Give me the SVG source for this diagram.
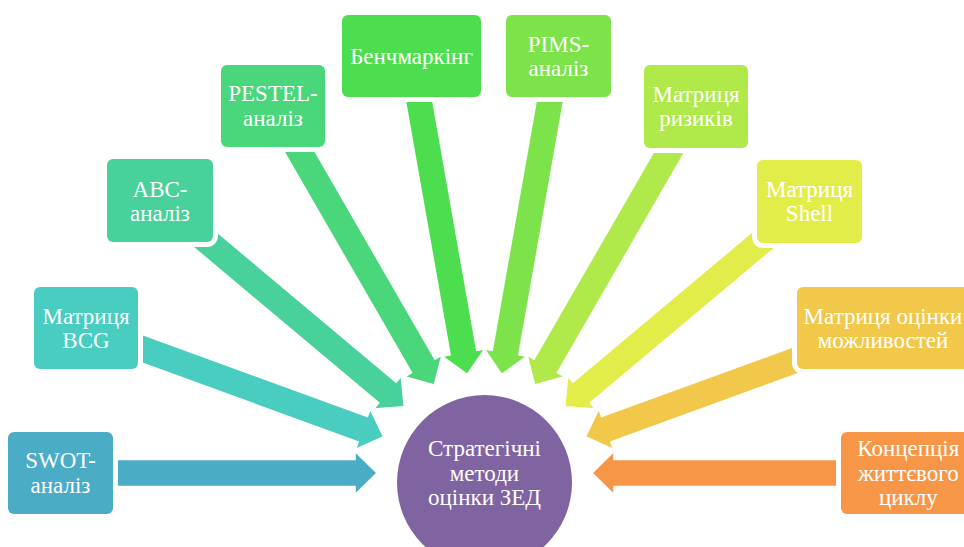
<svg xmlns="http://www.w3.org/2000/svg" xmlns:xlink="http://www.w3.org/1999/xlink" width="964" height="547" viewBox="0 0 964 547">
  <style>
    .box { stroke: #ffffff; stroke-width: 10; paint-order: stroke; }
    .arr { stroke: #ffffff; stroke-width: 1.5; stroke-linejoin: miter; }
    .t { font-family: "Liberation Serif", "Times New Roman", serif; font-size: 23px; fill: #ffffff; text-anchor: middle; }
  </style>
  <defs>
    <path id="arrow" d="M-300,-13.5 H-22 V-21.5 L0,0 L-22,21.5 V13.5 H-300 Z"/>
  </defs>
  <rect width="964" height="547" fill="#ffffff"/>

  <g id="connectors">
    <use href="#arrow" class="arr" fill="#4BACC6" transform="translate(377,473) rotate(0)"/>
    <use href="#arrow" class="arr" fill="#4ACDC1" transform="translate(383.5,436.7) rotate(20)"/>
    <use href="#arrow" class="arr" fill="#49D19C" transform="translate(404.3,406.7) rotate(40)"/>
    <use href="#arrow" class="arr" fill="#4AD67B" transform="translate(434.3,385) rotate(60)"/>
    <use href="#arrow" class="arr" fill="#4CDE4E" transform="translate(467.3,374.3) rotate(80)"/>
    <use href="#arrow" class="arr" fill="#7CE44A" transform="translate(501.7,374.3) rotate(100)"/>
    <use href="#arrow" class="arr" fill="#AFE94A" transform="translate(534.7,385) rotate(120)"/>
    <use href="#arrow" class="arr" fill="#E2ED4A" transform="translate(564.7,406.7) rotate(140)"/>
    <use href="#arrow" class="arr" fill="#F2C84A" transform="translate(585.5,436.7) rotate(160)"/>
    <use href="#arrow" class="arr" fill="#F79646" transform="translate(592,473) rotate(180)"/>
  </g>

  <g id="center">
    <circle cx="484.5" cy="482.5" r="87.5" fill="#8064A2"/>
    <text class="t" x="484.5" y="456">Стратегічні</text>
    <text class="t" x="484.5" y="480.5">методи</text>
    <text class="t" x="484.5" y="505">оцінки ЗЕД</text>
  </g>

  <g id="swot">
    <rect class="box" x="8" y="432" width="105" height="82" rx="6" fill="#4BACC6"/>
    <text class="t" x="60.5" y="468">SWOT-</text>
    <text class="t" x="60.5" y="492.5">аналіз</text>
  </g>

  <g id="bcg">
    <rect class="box" x="34" y="287" width="104" height="82" rx="6" fill="#4ACDC1"/>
    <text class="t" x="86" y="323.5">Матриця</text>
    <text class="t" x="86" y="348">BCG</text>
  </g>

  <g id="abc">
    <rect class="box" x="107" y="159" width="106" height="83" rx="6" fill="#49D19C"/>
    <text class="t" x="160" y="196.5">ABC-</text>
    <text class="t" x="160" y="221">аналіз</text>
  </g>

  <g id="pestel">
    <rect class="box" x="221" y="65" width="104" height="82" rx="6" fill="#4AD67B"/>
    <text class="t" x="273" y="101">PESTEL-</text>
    <text class="t" x="273" y="125.5">аналіз</text>
  </g>

  <g id="benchmarking">
    <rect class="box" x="342" y="15" width="139" height="82" rx="6" fill="#4CDE4E"/>
    <text class="t" x="411.5" y="63.5">Бенчмаркінг</text>
  </g>

  <g id="pims">
    <rect class="box" x="506" y="15" width="105" height="82" rx="6" fill="#7CE44A"/>
    <text class="t" x="558.5" y="51.5">PIMS-</text>
    <text class="t" x="558.5" y="76">аналіз</text>
  </g>

  <g id="risks">
    <rect class="box" x="644" y="65" width="104" height="83" rx="6" fill="#AFE94A"/>
    <text class="t" x="696" y="101.5">Матриця</text>
    <text class="t" x="696" y="126">ризиків</text>
  </g>

  <g id="shell">
    <rect class="box" x="757" y="160" width="105" height="83" rx="6" fill="#E2ED4A"/>
    <text class="t" x="809.5" y="196.5">Матриця</text>
    <text class="t" x="809.5" y="221">Shell</text>
  </g>

  <g id="opportunities">
    <rect class="box" x="797" y="287" width="172" height="82" rx="6" fill="#F2C84A"/>
    <text class="t" x="883" y="323.5">Матриця оцінки</text>
    <text class="t" x="883" y="348">можливостей</text>
  </g>

  <g id="lifecycle">
    <rect class="box" x="841" y="432" width="135" height="82" rx="6" fill="#F79646"/>
    <text class="t" x="908.3" y="456">Концепція</text>
    <text class="t" x="908.3" y="480.5">життєвого</text>
    <text class="t" x="908.3" y="505">циклу</text>
  </g>
</svg>
